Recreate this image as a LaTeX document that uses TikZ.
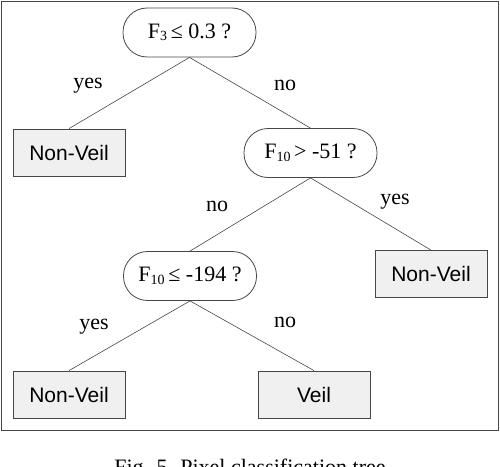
\documentclass[tikz,border=0pt]{standalone}
\usepackage{fontspec}
\setmainfont{Liberation Serif}
\newfontfamily\arialfont{Liberation Sans}
\definecolor{edgegray}{RGB}{70,70,70}
\definecolor{leaffill}{RGB}{240,240,240}
\newcommand{\subsc}[1]{\raisebox{-2.5pt}{\fontsize{14}{14}\selectfont #1}}
\begin{document}
\begin{tikzpicture}[x=1pt,y=-1pt,
  test/.style={draw=edgegray, line width=0.8pt, rounded corners=24pt,
    minimum width=133pt, minimum height=49pt, inner sep=0pt,
    font=\fontsize{22}{22}\selectfont},
  leaf/.style={draw=edgegray, line width=0.8pt, fill=leaffill,
    minimum width=112pt, minimum height=47pt, inner sep=0pt,
    font=\arialfont\fontsize{21}{21}\selectfont},
  edge/.style={draw=edgegray, line width=0.6pt},
  lbl/.style={font=\fontsize{22}{22}\selectfont, inner sep=0pt}]
\useasboundingbox (0,0) rectangle (500,466);
\clip (0,0) rectangle (500,466);
\draw[draw=edgegray, line width=1pt] (1,1) rectangle (498.5,430.5);

\node[test] (t1) at (189.5,32.5) {F\subsc{3}\,≤ 0.3 ?};
\node[leaf] (l1) at (69,152.5) {Non-Veil};
\node[test] (t2) at (310.5,153) {F\subsc{10}\,> -51 ?};
\node[test] (t3) at (190,276) {F\subsc{10}\,≤ -194 ?};
\node[leaf] (l2) at (431,274) {Non-Veil};
\node[leaf] (l3) at (69,394.5) {Non-Veil};
\node[leaf] (l4) at (314,394.5) {Veil};

\draw[edge] (t1.south) -- (l1.north);
\draw[edge] (t1.south) -- (t2.north);
\draw[edge] (t2.south) -- (t3.north);
\draw[edge] (t2.south) -- (l2.north);
\draw[edge] (t3.south) -- (l3.north);
\draw[edge] (t3.south) -- (l4.north);

\node[lbl] (y1) at (88,86) {yes};
\node[lbl] (n1) at (285,85) {no};
\node[lbl] (n2) at (217,206) {no};
\node[lbl] (y2) at (395,202) {yes};
\node[lbl] (y3) at (94,327) {yes};
\node[lbl] (n3) at (285,322) {no};

\node[font=\fontsize{22}{22}\selectfont, anchor=base, inner sep=0pt] (cap) at (250,474.5) {Fig. 5. Pixel classification tree};
\end{tikzpicture}
\end{document}
